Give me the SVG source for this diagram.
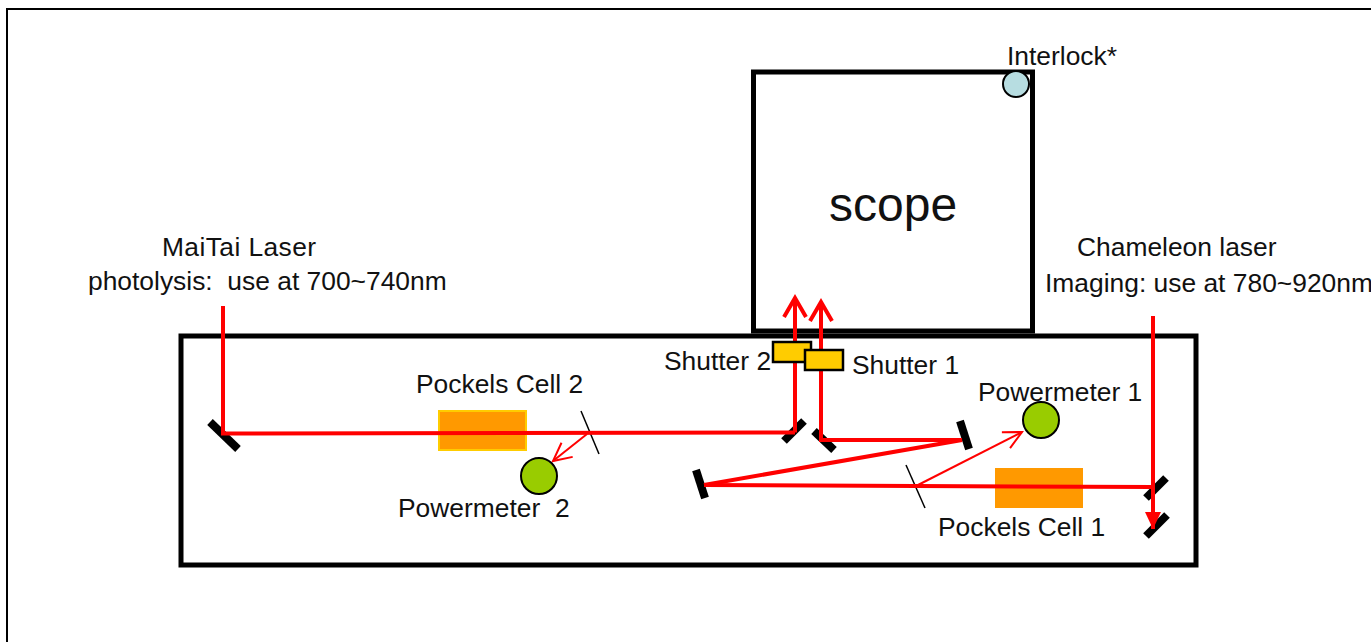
<svg xmlns="http://www.w3.org/2000/svg" width="1371" height="642" viewBox="0 0 1371 642">
<defs>
<marker id="thick" markerUnits="userSpaceOnUse" markerWidth="28" markerHeight="28" refX="21" refY="14" orient="auto"><path d="M2 3L21 14L2 25" fill="none" stroke="#ff0000" stroke-width="4"/></marker>
<marker id="thin" markerUnits="userSpaceOnUse" markerWidth="24" markerHeight="24" refX="20" refY="12" orient="auto"><path d="M2 3L20 12L2 21" fill="none" stroke="#ff0000" stroke-width="2"/></marker>
<marker id="solid" markerUnits="userSpaceOnUse" markerWidth="20" markerHeight="18" refX="17" refY="9" orient="auto"><path d="M0 1L17 9L0 17Z" fill="#ff0000"/></marker>
</defs>
<style>
text{font-family:"Liberation Sans",Arial,sans-serif;font-size:26.400px;fill:#111}
.box{fill:none;stroke:#000;stroke-width:5}
.mirror{stroke:#000;stroke-width:8;fill:none}
.split{stroke:#000;stroke-width:1.500;fill:none}
.beam{stroke:#ff0000;stroke-width:4;fill:none}
.thinbeam{stroke:#ff0000;stroke-width:2;fill:none}
.shutter{fill:#ffcc00;stroke:#000;stroke-width:2.500}
.meter{fill:#99cc00;stroke:#000;stroke-width:2}
.cell{fill:#ff9900}
</style>
<rect width="1371" height="642" fill="#fff"/>
<g id="frame"><path d="M7 642V9H1371" fill="none" stroke="#000" stroke-width="2"/></g>
<g id="scope"><rect class="box" x="753.500" y="72" width="279" height="259"/><text x="829" y="221" style="font-size:48px">scope</text></g>
<g id="table"><rect class="box" x="181" y="336" width="1015" height="229"/></g>
<g id="interlock"><circle cx="1016" cy="84" r="13" fill="#b7dde1" stroke="#000" stroke-width="2"/><text x="1007" y="65">Interlock*</text></g>
<g id="pockels-2"><rect class="cell" x="439" y="411" width="87" height="39" stroke="#ffcc00" stroke-width="2"/><text x="416" y="393">Pockels Cell 2</text></g>
<g id="pockels-1"><rect class="cell" x="995" y="468" width="88" height="40"/><text x="938" y="536">Pockels Cell 1</text></g>
<g id="optics">
<path class="mirror" d="M210 422L238 449"/>
<path class="mirror" d="M784 441L804 421"/>
<path class="mirror" d="M814 431L834 450"/>
<path class="mirror" d="M960 421L969 449"/>
<path class="mirror" d="M696 470L705 498"/>
<path class="mirror" d="M1146 498L1166 478"/>
<path class="mirror" d="M1146 536L1167 515"/>
<path class="split" d="M581 411L599 454"/>
<path class="split" d="M906 465L925 508"/>
</g>
<g id="connectors">
<path class="beam" d="M223 306V433.500L795 432.500"/>
<path class="beam" d="M795 432.500V298" marker-end="url(#thick)"/>
<path class="beam" d="M704 485L962 440H821V302" marker-end="url(#thick)"/>
<path class="beam" d="M704 485L1153 487"/>
<path class="beam" d="M1153 316V529" marker-end="url(#solid)"/>
<path class="thinbeam" d="M587 434L553 461" marker-end="url(#thin)"/>
<path class="thinbeam" d="M918 485L1022 432" marker-end="url(#thin)"/>
</g>
<g id="shutter-2"><rect class="shutter" x="773" y="342" width="38" height="20"/><text x="664" y="370">Shutter 2</text></g>
<g id="shutter-1"><rect class="shutter" x="805" y="350" width="38" height="20"/><text x="852" y="374">Shutter 1</text></g>
<g id="powermeter-1"><circle class="meter" cx="1041" cy="420" r="18"/><text x="978" y="401">Powermeter 1</text></g>
<g id="powermeter-2"><circle class="meter" cx="539" cy="476" r="18"/><text x="398" y="517" xml:space="preserve">Powermeter  2</text></g>
<g id="maitai"><text x="162" y="256" textLength="154">MaiTai Laser</text><text x="88" y="290" xml:space="preserve">photolysis:  use at 700~740nm</text></g>
<g id="chameleon"><text x="1077" y="256">Chameleon laser</text><text x="1045" y="292">Imaging: use at 780~920nm</text></g>
</svg>
